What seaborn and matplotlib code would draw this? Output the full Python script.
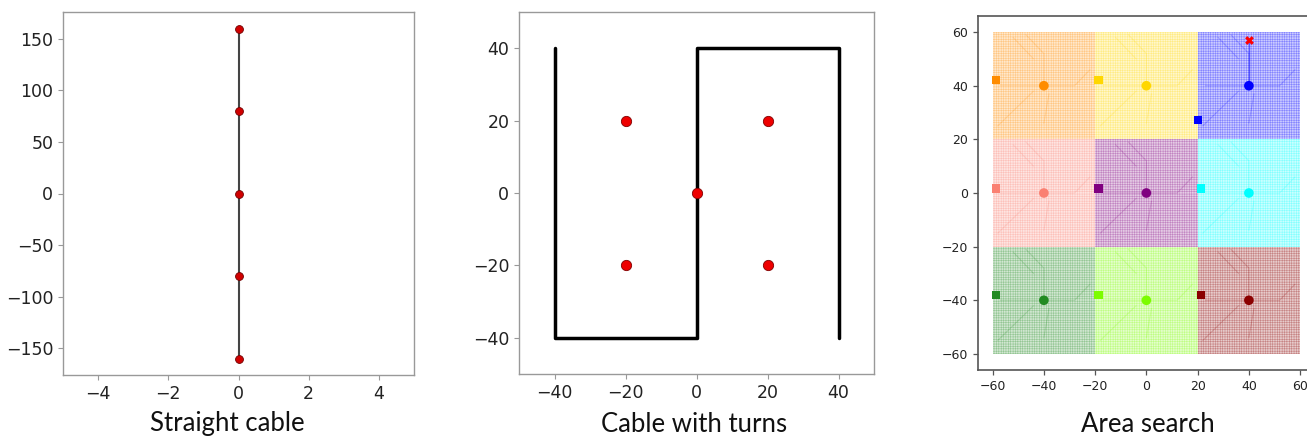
import numpy as np
import pandas as pd
import matplotlib
matplotlib.use("Agg")
import matplotlib.pyplot as plt
from matplotlib.patches import Rectangle
from matplotlib.colors import to_rgba
import seaborn as sns

# --- data -------------------------------------------------------------
# Panel 1: straight cable
straight_x = [0, 0, 0, 0, 0]
straight_y = [-160, -80, 0, 80, 160]

# Panel 2: cable with turns
turns_path_x = [-40, -40, 0, 0, 40, 40]
turns_path_y = [40, -40, -40, 40, 40, -40]
turns_pts_x = [-20, 20, 0, -20, 20]
turns_pts_y = [20, 20, 0, -20, -20]

# Panel 3: area search (3x3 cells)
cell_names = ["c1", "c2", "c3", "c4", "c5", "c6", "c7", "c8", "c9"]
cell_x = [-40, 0, 40, -40, 0, 40, -40, 0, 40]
cell_y = [40, 40, 40, 0, 0, 0, -40, -40, -40]
cell_colors = ["darkorange", "gold", "blue", "salmon", "purple", "cyan",
               "forestgreen", "lawngreen", "darkred"]
start_x = [-58.8, -18.7, 20.0, -58.8, -18.7, 21.4, -58.8, -18.7, 21.4]
start_y = [42.0, 42.0, 27.1, 1.7, 1.7, 1.7, -38.1, -38.1, -38.1]
target_x = [40]
target_y = [57.2]
cell_size = 40

# faint cable pattern inside each cell, relative to cell centre
pattern_seg = [0, 0, 0, 1, 1, 1, 2, 2, 3, 3, 4, 4]
pattern_dx = [-17, 12, 18, 0, 0, -7, -18, -4, 2, 0, -12, -4]
pattern_dy = [0, 0, 6, 0, 12, 19, -15, -2, -3, -14, 18, 10]

# --- style ------------------------------------------------------------
sns.set_style("white")
plt.rcParams["font.family"] = ["DejaVu Sans"]
plt.rcParams["hatch.linewidth"] = 0.4

fig = plt.figure(figsize=(13.07, 4.37), dpi=100)
W, H = 1307, 437

def place(l, r, t, b):
    return [l / W, 1 - b / H, (r - l) / W, (b - t) / H]

ax1 = fig.add_axes(place(63, 414, 12, 375))
ax2 = fig.add_axes(place(519, 874, 12, 374))
ax3 = fig.add_axes(place(978, 1315, 16, 370))

for ax in (ax1, ax2):
    for s in ax.spines.values():
        s.set_color("#999999")
        s.set_linewidth(1.0)
    ax.tick_params(labelsize=12.5, colors="#999999", labelcolor="#222222",
                   length=3.5, width=0.8, left=True, bottom=True)

# panel 1
sns.lineplot(x=straight_x, y=straight_y, sort=False, estimator=None,
             color="#444444", linewidth=1.5, ax=ax1)
sns.scatterplot(x=straight_x, y=straight_y, color="#d00000", edgecolor="#700000",
                linewidth=0.6, s=32, zorder=3, ax=ax1)
ax1.set_xlim(-5, 5)
ax1.set_ylim(-176, 176)
ax1.set_xticks([-4, -2, 0, 2, 4])
ax1.set_yticks([-150, -100, -50, 0, 50, 100, 150])

# panel 2
sns.lineplot(x=turns_path_x, y=turns_path_y, sort=False, estimator=None,
             color="black", linewidth=2.5, ax=ax2)
sns.scatterplot(x=turns_pts_x, y=turns_pts_y, color="#ee0000", edgecolor="#800000",
                linewidth=0.6, s=55, zorder=3, ax=ax2)
ax2.set_xlim(-50, 50)
ax2.set_ylim(-50, 50)
ax2.set_xticks([-40, -20, 0, 20, 40])
ax2.set_yticks([-40, -20, 0, 20, 40])

# panel 3
half = cell_size / 2
palette = dict(zip(cell_names, cell_colors))
for cx, cy, col in zip(cell_x, cell_y, cell_colors):
    ax3.add_patch(Rectangle((cx - half, cy - half), cell_size, cell_size,
                            facecolor=to_rgba(col, 0.2), edgecolor=to_rgba(col, 0.35),
                            hatch="+" * 7, linewidth=0, zorder=1))

rows = []
for name, cx, cy in zip(cell_names, cell_x, cell_y):
    for seg, dx, dy in zip(pattern_seg, pattern_dx, pattern_dy):
        rows.append({"cell": name, "seg": f"{name}_{seg}", "x": cx + dx, "y": cy + dy})
paths = pd.DataFrame(rows)
sns.lineplot(data=paths, x="x", y="y", hue="cell", units="seg", estimator=None,
             sort=False, palette=palette, linewidth=0.8, alpha=0.2, legend=False,
             ax=ax3, zorder=2)

sns.lineplot(x=[cell_x[2], target_x[0]], y=[cell_y[2], target_y[0]], sort=False,
             estimator=None, color="blue", linewidth=1.0, alpha=0.5, ax=ax3, zorder=2)

sns.scatterplot(x=cell_x, y=cell_y, hue=cell_names, palette=palette, marker="o",
                s=48, linewidth=0, legend=False, ax=ax3, zorder=4)
sns.scatterplot(x=start_x, y=start_y, hue=cell_names, palette=palette, marker="s",
                s=35, linewidth=0, legend=False, ax=ax3, zorder=4)
sns.scatterplot(x=target_x, y=target_y, color="red", marker="X", s=40,
                linewidth=0, ax=ax3, zorder=5)

ax3.set_xlim(-65.7, 65.8)
ax3.set_ylim(-66, 66)
ax3.set_xticks([-60, -40, -20, 0, 20, 40, 60])
ax3.set_yticks([-60, -40, -20, 0, 20, 40, 60])
for s in ax3.spines.values():
    s.set_color("#555555")
    s.set_linewidth(1.2)
ax3.tick_params(labelsize=9, colors="#555555", labelcolor="#222222",
                length=3.5, width=0.9, left=True, bottom=True)

for ax in (ax1, ax2, ax3):
    ax.set_xlabel("")
    ax.set_ylabel("")

# captions
cap_font = ["Lato", "DejaVu Sans"]
fig.text(227 / W, 1 - 424 / H, "Straight cable", ha="center", va="center",
         fontsize=18.5, family=cap_font, color="#111111")
fig.text(694 / W, 1 - 424 / H, "Cable with turns", ha="center", va="center",
         fontsize=18.5, family=cap_font, color="#111111")
fig.text(1148 / W, 1 - 424 / H, "Area search", ha="center", va="center",
         fontsize=18.5, family=cap_font, color="#111111")

fig.savefig("out.png", dpi=100)
